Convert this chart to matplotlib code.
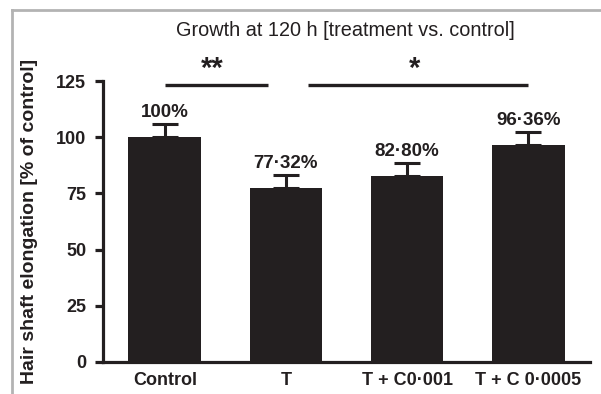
import matplotlib
matplotlib.use("Agg")
import matplotlib.pyplot as plt
from matplotlib.lines import Line2D

categories = ["Control", "T", "T + C0·001", "T + C 0·0005"]
values = [100.0, 77.32, 82.80, 96.36]
errors = [5.8, 5.9, 5.8, 6.0]
value_labels = ["100%", "77·32%", "82·80%", "96·36%"]
yticks = [0, 25, 50, 75, 100, 125]
sig_pairs = [((0, 0.85), "**"), ((1.18, 3.0), "*")]
sig_level = 123.2
title = "Growth at 120 h [treatment vs. control]"
ylabel = "Hair shaft elongation [% of control]"

plt.rcParams['font.family'] = ['Liberation Sans', 'DejaVu Sans']
W, H = 601, 394
fig = plt.figure(figsize=(W / 100, H / 100), dpi=100)
axL, axR, axB, axT = 103, 590, 362, 81
ax = fig.add_axes([axL / W, 1 - axB / H, (axR - axL) / W, (axB - axT) / H])

dark = "#231f20"
x = list(range(len(categories)))
ax.bar(x, values, width=0.6, color=dark, zorder=2)
ax.errorbar(x, values, yerr=[[0] * len(errors), errors], fmt="none",
            ecolor=dark, elinewidth=2.2, capsize=9.5, capthick=2.2, zorder=3)

for xi, v, e, lab in zip(x, values, errors, value_labels):
    ax.annotate(lab, (xi, v + e), xytext=(0, 5), textcoords="offset points",
                ha="center", va="baseline", fontsize=13.5, fontweight="bold",
                color=dark)

for (x0, x1), stars in sig_pairs:
    ax.plot([x0, x1], [sig_level, sig_level], color=dark, lw=2.4,
            clip_on=False, solid_capstyle="butt", zorder=4)
    ax.text((x0 + x1) / 2 - 0.03, sig_level + 1.0, stars, ha="center",
            va="bottom", fontsize=21, fontweight="bold", color=dark)

ax.set_xlim(-0.51, 3.51)
ax.set_ylim(0, 125)
ax.set_yticks(yticks)
ax.set_xticks(x)
ax.set_xticklabels(categories)
for s in ["top", "right"]:
    ax.spines[s].set_visible(False)
for s in ["left", "bottom"]:
    ax.spines[s].set_linewidth(2.3)
    ax.spines[s].set_color(dark)
ax.tick_params(axis="y", length=6, width=2.3, color=dark, labelsize=13,
               pad=6, labelcolor=dark)
ax.tick_params(axis="x", length=0, labelsize=13, pad=7, labelcolor=dark)
for t in ax.get_xticklabels() + ax.get_yticklabels():
    t.set_fontweight("bold")

ax.set_ylabel(ylabel, fontsize=14, fontweight="bold", color=dark)
ax.yaxis.set_label_coords((30 - axL) / (axR - axL), 0.5)
ax.yaxis.label.set_va("center")

fig.text(345 / W, 1 - 36 / H, title, fontsize=14.3, color=dark,
         ha="center", va="baseline")

# gray frame
fig.add_artist(Line2D([12 / W, 12 / W], [0, 1 - 10 / H], transform=fig.transFigure,
                      color="#b3b3b3", lw=2))
fig.add_artist(Line2D([12 / W, 1], [1 - 10 / H, 1 - 10 / H], transform=fig.transFigure,
                      color="#b3b3b3", lw=2))

fig.savefig("out.png", dpi=100)
